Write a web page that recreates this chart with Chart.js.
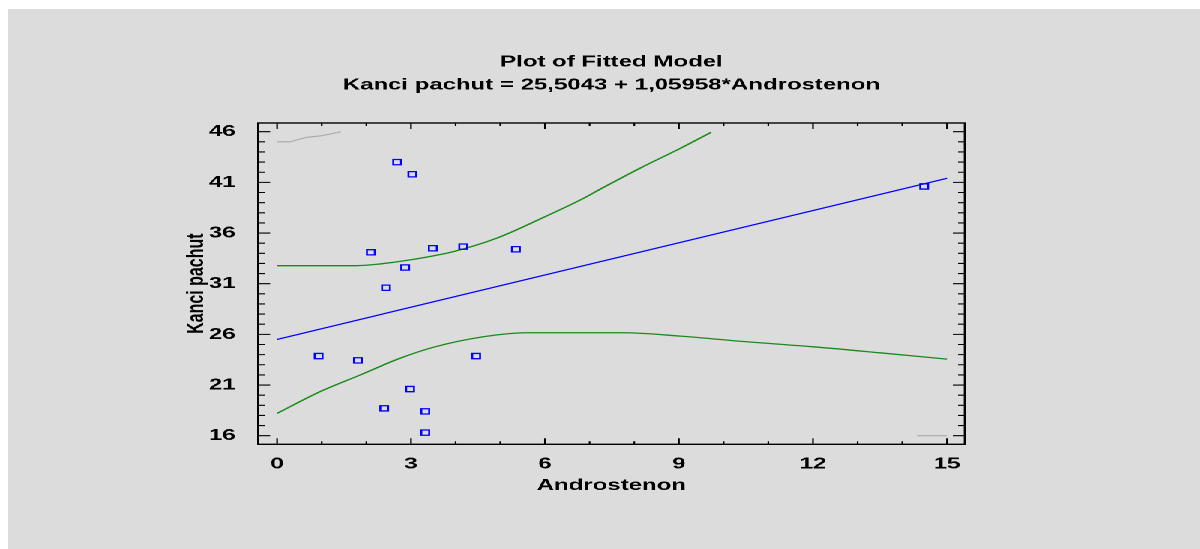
<!DOCTYPE html>
<html>
<head>
<meta charset="utf-8">
<script src="https://cdn.jsdelivr.net/npm/chart.js@4.4.1/dist/chart.umd.min.js"></script>
<style>
  html, body { margin: 0; padding: 0; background: #fff; overflow: hidden; }
  #wrap {
    position: absolute; left: 8px; top: 9px;
    width: 795px; height: 540px;
    background: #dcdcdc;
    transform: scaleX(1.5); transform-origin: 0 0;
  }
</style>
</head>
<body>
<div id="wrap"><canvas id="fit" width="795" height="540"></canvas></div>
<script>
// observed values (Androstenon, Kanci pachut)
var obsX = [0.93, 1.81, 2.10, 2.40, 2.44, 2.69, 2.87, 2.98, 3.03, 3.32, 3.32, 3.49, 4.17, 4.46, 5.35, 14.49];
var obsY = [23.86, 23.43, 34.1, 18.7, 30.6, 43.0, 32.6, 20.6, 41.8, 18.4, 16.3, 34.5, 34.66, 23.86, 34.4, 40.6];

// fitted line end points
var fitX = [0, 15];
var fitY = [25.5, 41.4];

// confidence limits (green)
var upperX = [0, 1.78, 2.31, 2.98, 3.95, 4.92, 6.04, 6.79, 7.31, 8.13, 9.03, 9.72];
var upperY = [32.78, 32.78, 32.95, 33.35, 34.17, 35.49, 37.69, 39.26, 40.5, 42.4, 44.36, 45.94];
var lowerX = [0, 0.96, 1.86, 2.75, 3.5, 4.62, 5.59, 7.76, 9.03, 10.52, 12.01, 13.5, 15];
var lowerY = [18.2, 20.34, 21.99, 23.63, 24.72, 25.76, 26.16, 26.16, 25.83, 25.27, 24.77, 24.18, 23.56];

// prediction limits (grey), mostly outside the plot
var predUpX = [0, 0.29, 0.66, 0.96, 1.43];
var predUpY = [45.0, 45.0, 45.45, 45.58, 46.0];
var predLoX = [14.33, 15];
var predLoY = [16.0, 16.0];

var xTicks = [0, 3, 6, 9, 12, 15];
var yTicks = [16, 21, 26, 31, 36, 41, 46];

function pts(xs, ys) {
  return xs.map(function (v, i) { return { x: v, y: ys[i] }; });
}

var font = { family: "'Liberation Sans', Arial, sans-serif", size: 16, weight: 'bold' };

// frame + inward ticks, like the original plot
var frameTicks = {
  id: 'frameTicks',
  afterDatasetsDraw: function (chart) {
    var ctx = chart.ctx, a = chart.chartArea, x = chart.scales.x, y = chart.scales.y;
    ctx.save();
    ctx.strokeStyle = '#000';
    ctx.lineWidth = 1.1;
    ctx.beginPath();
    for (var v = 0; v <= 15; v++) {
      var px = x.getPixelForValue(v);
      var len = v % 3 === 0 ? 6 : 3;
      ctx.moveTo(px, a.bottom); ctx.lineTo(px, a.bottom - len);
      ctx.moveTo(px, a.top); ctx.lineTo(px, a.top + len);
    }
    for (var w = 16; w <= 46; w++) {
      var py = y.getPixelForValue(w);
      var l2 = (w - 16) % 5 === 0 ? 8 : 4.5;
      ctx.moveTo(a.left, py); ctx.lineTo(a.left + l2, py);
      ctx.moveTo(a.right, py); ctx.lineTo(a.right - l2, py);
    }
    ctx.stroke();
    ctx.lineWidth = 1.4;
    ctx.strokeRect(a.left, a.top, a.right - a.left, a.bottom - a.top);
    ctx.restore();
  }
};

var ctx = document.getElementById('fit').getContext('2d');

new Chart(ctx, {
  type: 'scatter',
  data: {
    datasets: [{
      data: pts(obsX, obsY),
      pointStyle: 'rect',
      pointRadius: 3.7,
      pointBorderWidth: 1.3,
      borderColor: '#0000ff',
      backgroundColor: 'rgba(0,0,0,0)',
      showLine: false
    }, {
      data: pts(fitX, fitY),
      showLine: true, pointRadius: 0,
      borderColor: '#0000ff', borderWidth: 1.3
    }, {
      data: pts(upperX, upperY),
      showLine: true, pointRadius: 0, cubicInterpolationMode: 'monotone',
      borderColor: '#1a8a1a', borderWidth: 1.3
    }, {
      data: pts(lowerX, lowerY),
      showLine: true, pointRadius: 0, cubicInterpolationMode: 'monotone',
      borderColor: '#1a8a1a', borderWidth: 1.3
    }, {
      data: pts(predUpX, predUpY),
      showLine: true, pointRadius: 0,
      borderColor: '#a8a8a8', borderWidth: 1.1
    }, {
      data: pts(predLoX, predLoY),
      showLine: true, pointRadius: 0,
      borderColor: '#a8a8a8', borderWidth: 1.1
    }]
  },
  options: {
    responsive: false,
    devicePixelRatio: 2,
    animation: false,
    layout: { padding: { left: 0, right: 157, top: 0, bottom: 0 } },
    plugins: {
      legend: { display: false },
      tooltip: { enabled: false },
      title: {
        display: true,
        fullSize: false,
        text: ['Plot of Fitted Model', 'Kanci pachut = 25,5043 + 1,05958*Androstenon'],
        color: '#000',
        font: { family: font.family, size: 16, weight: 'bold', lineHeight: 1.4375 },
        padding: { top: 41.5, bottom: 26.5 }
      }
    },
    scales: {
      x: {
        type: 'linear',
        position: 'bottom',
        min: -0.424,
        max: 15.40,
        grid: { display: false },
        border: { display: false },
        afterBuildTicks: function (s) { s.ticks = xTicks.map(function (v) { return { value: v }; }); },
        afterFit: function (s) { s.height = 104.7; },
        ticks: { font: font, color: '#000', padding: 2, maxRotation: 0, autoSkip: false },
        title: { display: true, text: 'Androstenon', color: '#000', font: font, padding: { top: 0, bottom: 54 } }
      },
      y: {
        type: 'linear',
        position: 'left',
        min: 15.15,
        max: 46.86,
        grid: { display: false },
        border: { display: false },
        afterBuildTicks: function (s) { s.ticks = yTicks.map(function (v) { return { value: v }; }); },
        afterFit: function (s) { s.width = 166.7; },
        ticks: { font: font, color: '#000', padding: 7, autoSkip: false },
        title: { display: true, text: 'Kanci pachut', color: '#000', font: font, padding: { top: 116, bottom: 0 } }
      }
    }
  },
  plugins: [frameTicks]
});
</script>
</body>
</html>
